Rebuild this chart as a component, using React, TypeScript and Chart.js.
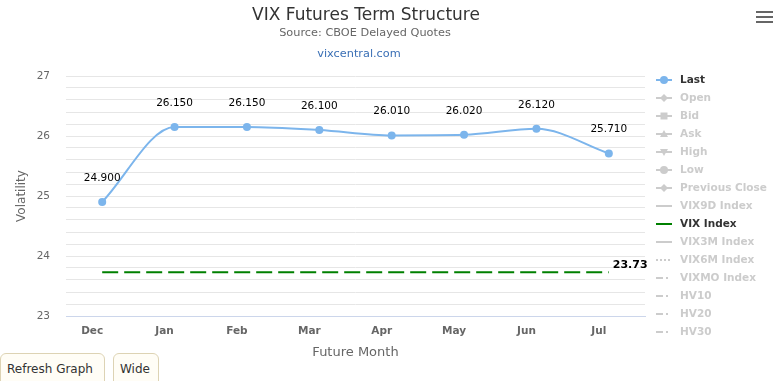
import React, { useEffect, useRef } from 'react';
import { Chart, registerables } from 'chart.js';

Chart.register(...registerables);

// ---- data ----
const MONTHS = ['Dec', 'Jan', 'Feb', 'Mar', 'Apr', 'May', 'Jun', 'Jul'];
const LAST = [24.9, 26.15, 26.15, 26.1, 26.01, 26.02, 26.12, 25.71];
const VIX_INDEX = [23.73, 23.73, 23.73, 23.73, 23.73, 23.73, 23.73, 23.73];
const Y_MIN = 23;
const Y_MAX = 27;
const Y_STEP = 0.2;

const TITLE = 'VIX Futures Term Structure';
const SUBTITLE = 'Source: CBOE Delayed Quotes';
const LINK = 'vixcentral.com';

const FONT = '"DejaVu Sans", Verdana, sans-serif';

type Sym = { label: string; marker: string; dash: number[] };
const HIDDEN_BEFORE: Sym[] = [
  { label: 'Open', marker: 'diamond', dash: [] },
  { label: 'Bid', marker: 'square', dash: [] },
  { label: 'Ask', marker: 'triangle', dash: [] },
  { label: 'High', marker: 'triangle-down', dash: [] },
  { label: 'Low', marker: 'circle', dash: [] },
  { label: 'Previous Close', marker: 'diamond', dash: [] },
  { label: 'VIX9D Index', marker: 'none', dash: [] },
];
const HIDDEN_AFTER: Sym[] = [
  { label: 'VIX3M Index', marker: 'none', dash: [] },
  { label: 'VIX6M Index', marker: 'none', dash: [2, 2] },
  { label: 'VIXMO Index', marker: 'none', dash: [7, 3, 2, 4] },
  { label: 'HV10', marker: 'none', dash: [7, 3, 2, 4] },
  { label: 'HV20', marker: 'none', dash: [7, 3, 2, 4] },
  { label: 'HV30', marker: 'none', dash: [7, 3, 2, 4] },
];

function drawMarker(ctx: CanvasRenderingContext2D, kind: string, x: number, y: number, color: string) {
  ctx.fillStyle = color;
  ctx.beginPath();
  if (kind === 'circle') {
    ctx.arc(x, y, 4, 0, Math.PI * 2);
  } else if (kind === 'diamond') {
    ctx.moveTo(x, y - 4);
    ctx.lineTo(x + 4, y);
    ctx.lineTo(x, y + 4);
    ctx.lineTo(x - 4, y);
    ctx.closePath();
  } else if (kind === 'square') {
    ctx.rect(x - 3.5, y - 3.5, 7, 7);
  } else if (kind === 'triangle') {
    ctx.moveTo(x, y - 4);
    ctx.lineTo(x + 4, y + 3);
    ctx.lineTo(x - 4, y + 3);
    ctx.closePath();
  } else if (kind === 'triangle-down') {
    ctx.moveTo(x, y + 4);
    ctx.lineTo(x + 4, y - 3);
    ctx.lineTo(x - 4, y - 3);
    ctx.closePath();
  } else {
    return;
  }
  ctx.fill();
}

const headerPlugin = {
  id: 'header',
  afterDraw(chart: any) {
    const ctx = chart.ctx as CanvasRenderingContext2D;
    ctx.save();
    ctx.textAlign = 'center';
    ctx.textBaseline = 'alphabetic';
    ctx.fillStyle = '#333333';
    ctx.font = `17px ${FONT}`;
    ctx.fillText(TITLE, 366, 20);
    ctx.fillStyle = '#666666';
    ctx.font = `11.3px ${FONT}`;
    ctx.fillText(SUBTITLE, 365, 36);
    ctx.fillStyle = '#3a6fb5';
    ctx.fillText(LINK, 359, 57);
    ctx.restore();
  },
};

const labelsPlugin = {
  id: 'pointLabels',
  afterDatasetsDraw(chart: any) {
    const ctx = chart.ctx as CanvasRenderingContext2D;
    ctx.save();
    chart.data.datasets.forEach((ds: any, i: number) => {
      if (!chart.isDatasetVisible(i)) return;
      const meta = chart.getDatasetMeta(i);
      if (ds.label === 'Last') {
        ctx.font = `10.5px ${FONT}`;
        ctx.fillStyle = '#000000';
        ctx.textAlign = 'center';
        ctx.textBaseline = 'middle';
        meta.data.forEach((pt: any, j: number) => {
          ctx.fillText(Number(ds.data[j]).toFixed(3), pt.x, pt.y - 24);
        });
      } else if (ds.label === 'VIX Index') {
        const n = meta.data.length - 1;
        const pt = meta.data[n];
        ctx.font = `bold 11px ${FONT}`;
        ctx.fillStyle = '#000000';
        ctx.textAlign = 'left';
        ctx.textBaseline = 'middle';
        ctx.fillText(Number(ds.data[n]).toFixed(2), pt.x + 4, pt.y - 7);
      }
    });
    ctx.restore();
  },
};

const legendPlugin = {
  id: 'sideLegend',
  afterDraw(chart: any) {
    const ctx = chart.ctx as CanvasRenderingContext2D;
    const area = chart.chartArea;
    const x0 = area.right + 11;
    const tx = area.right + 35;
    let y = area.top + 4;
    ctx.save();
    chart.data.datasets.forEach((ds: any, i: number) => {
      const visible = chart.isDatasetVisible(i);
      const col = visible ? ds.borderColor : '#cccccc';
      ctx.strokeStyle = col;
      ctx.lineWidth = 2;
      ctx.setLineDash(ds.legendDash || []);
      ctx.beginPath();
      ctx.moveTo(x0, y);
      ctx.lineTo(x0 + 16, y);
      ctx.stroke();
      ctx.setLineDash([]);
      drawMarker(ctx, ds.legendMarker, x0 + 8, y, col);
      ctx.font = `bold 10.5px ${FONT}`;
      ctx.fillStyle = visible ? '#333333' : '#cccccc';
      ctx.textAlign = 'left';
      ctx.textBaseline = 'middle';
      ctx.fillText(ds.label, tx, y);
      y += 18;
    });
    ctx.restore();
  },
};

function hiddenSet(items: Sym[]) {
  return items.map((s) => ({
    label: s.label,
    data: [] as number[],
    hidden: true,
    borderColor: '#cccccc',
    backgroundColor: '#cccccc',
    legendMarker: s.marker,
    legendDash: s.dash,
  }));
}

export default function App() {
  const ref = useRef<HTMLCanvasElement>(null);

  useEffect(() => {
    document.body.style.margin = '0';
    const datasets: any[] = [
      {
        label: 'Last',
        data: LAST,
        borderColor: '#7cb5ec',
        backgroundColor: '#7cb5ec',
        borderWidth: 2,
        pointRadius: 4,
        pointBorderWidth: 0,
        pointBackgroundColor: '#7cb5ec',
        cubicInterpolationMode: 'monotone',
        legendMarker: 'circle',
        legendDash: [],
      },
      ...hiddenSet(HIDDEN_BEFORE),
      {
        label: 'VIX Index',
        data: VIX_INDEX,
        borderColor: '#008000',
        backgroundColor: '#008000',
        borderWidth: 2,
        borderDash: [16, 6],
        pointRadius: 0,
        legendMarker: 'none',
        legendDash: [],
      },
      ...hiddenSet(HIDDEN_AFTER),
    ];

    const chart = new Chart(ref.current as HTMLCanvasElement, {
      type: 'line',
      data: { labels: MONTHS, datasets },
      options: {
        responsive: false,
        animation: false,
        events: [],
        devicePixelRatio: 1,
        layout: { padding: { top: 76, right: 134, bottom: 15, left: 10 } },
        plugins: {
          legend: { display: false },
          tooltip: { enabled: false },
          title: { display: false },
        },
        scales: {
          x: {
            offset: true,
            grid: { display: false, drawTicks: false },
            border: { display: true, color: '#ccd6eb', width: 1 },
            ticks: {
              color: '#666666',
              font: { family: FONT, size: 10.5, weight: 'bold' },
              padding: 9,
              labelOffset: -10,
              autoSkip: false,
              maxRotation: 0,
            },
            title: {
              display: true,
              text: 'Future Month',
              color: '#666666',
              font: { family: FONT, size: 13 },
              padding: { top: 0, bottom: 6 },
            },
            afterFit: (s: any) => {
              s.height = 50;
            },
          },
          y: {
            min: Y_MIN,
            max: Y_MAX,
            grid: {
              drawTicks: false,
              color: (c: any) => (c.index === 0 ? 'rgba(0,0,0,0)' : '#e6e6e6'),
            },
            border: { display: false },
            ticks: {
              stepSize: Y_STEP,
              maxTicksLimit: 100,
              autoSkip: false,
              color: '#666666',
              font: { family: FONT, size: 10.5 },
              padding: 16,
              callback: (v: any) =>
                Math.abs(v - Math.round(v)) < 1e-6 ? String(Math.round(v)) : '',
            },
            title: {
              display: true,
              text: 'Volatility',
              color: '#666666',
              font: { family: FONT, size: 12 },
              padding: { top: 5, bottom: 0 },
            },
            afterFit: (s: any) => {
              s.width = 56;
            },
          },
        },
      } as any,
      plugins: [headerPlugin, labelsPlugin, legendPlugin],
    });
    return () => chart.destroy();
  }, []);

  const btn: React.CSSProperties = {
    position: 'absolute',
    top: 353,
    height: 34,
    boxSizing: 'border-box',
    border: '1px solid #ddd3b4',
    borderRadius: 6,
    background: '#fffdf6',
    font: `12px ${FONT}`,
    color: '#333',
    paddingTop: 8,
    paddingLeft: 6,
    paddingRight: 6,
    whiteSpace: 'nowrap',
  };
  const bar: React.CSSProperties = {
    position: 'absolute',
    left: 756,
    width: 17,
    height: 2,
    background: '#666',
  };

  return (
    <div style={{ position: 'relative', width: 779, height: 381, overflow: 'hidden', background: '#fff' }}>
      <canvas ref={ref} width={779} height={381} style={{ display: 'block', width: 779, height: 381 }} />
      <div style={{ ...bar, top: 11 }} />
      <div style={{ ...bar, top: 16 }} />
      <div style={{ ...bar, top: 21 }} />
      <div style={{ ...btn, left: 0, width: 105 }}>Refresh Graph</div>
      <div style={{ ...btn, left: 113, width: 46 }}>Wide</div>
    </div>
  );
}
